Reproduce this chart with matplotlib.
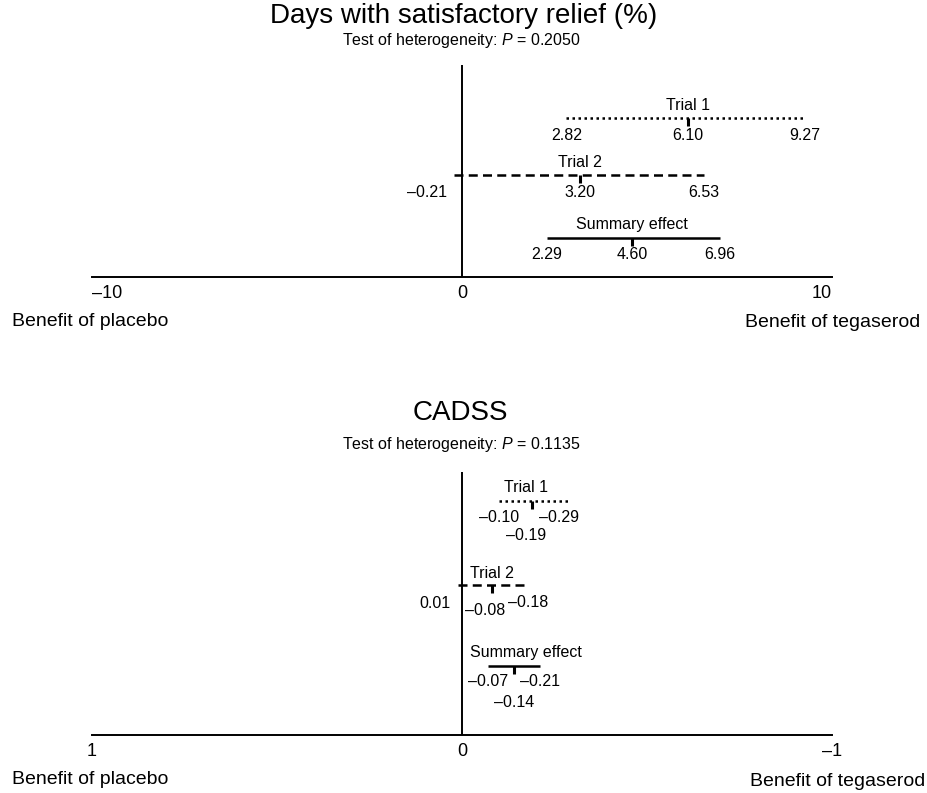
import matplotlib
matplotlib.use("Agg")
import matplotlib.pyplot as plt

plt.rcParams['font.family'] = 'Liberation Sans'
plt.rcParams['mathtext.fontset'] = 'custom'
plt.rcParams['mathtext.rm'] = 'Liberation Sans'
plt.rcParams['mathtext.it'] = 'Liberation Sans:italic'

# data
row_names = ["Trial 1", "Trial 2", "Summary effect"]

relief_lo = [2.82, -0.21, 2.29]
relief_est = [6.10, 3.20, 4.60]
relief_hi = [9.27, 6.53, 6.96]
relief_p = "0.2050"
relief_ticks = [-10, 0, 10]

cadss_lo = [-0.10, 0.01, -0.07]
cadss_est = [-0.19, -0.08, -0.14]
cadss_hi = [-0.29, -0.18, -0.21]
cadss_p = "0.1135"
cadss_ticks = [1, 0, -1]

W, H = 927, 793
fig = plt.figure(figsize=(W / 100, H / 100), dpi=100)

ax_left, ax_width = 92 / W, (832 - 92) / W
top_px = 277 - 65
bot_px = 735 - 472
ax1 = fig.add_axes([ax_left, 1 - 277 / H, ax_width, top_px / H])
ax2 = fig.add_axes([ax_left, 1 - 735 / H, ax_width, bot_px / H])

line_styles = [(0, (1, 1.4)), (0, (3.6, 2.1)), '-']
row_y_top = [0.75, 0.481, 0.184]
row_y_bot = [0.890, 0.570, 0.262]

# label offsets in pixels: (dx, dy, ha) for name, lo, est, hi
spec_top = [
    [(0, 13, 'center'), (0, -17, 'center'), (0, -17, 'center'), (0, -17, 'center')],
    [(0, 13, 'center'), (-7, -17, 'right'), (0, -17, 'center'), (0, -17, 'center')],
    [(0, 13, 'center'), (0, -17, 'center'), (0, -17, 'center'), (0, -17, 'center')],
]
spec_bot = [
    [(-6, 13, 'center'), (0, -17, 'center'), (-6, -35, 'center'), (-10, -17, 'center')],
    [(0, 12, 'center'), (-8, -18, 'right'), (-6, -25, 'center'), (0, -17, 'center')],
    [(12, 14, 'center'), (0, -15, 'center'), (0, -36, 'center'), (0, -15, 'center')],
]


def fmt(v, nd=2):
    return f"{v:.{nd}f}".replace("-", "\u2013")


def setup(ax, ticks, tick_ha):
    ax.set_xlim(ticks[0], ticks[-1])
    ax.set_ylim(0, 1)
    for s in ['top', 'right', 'left']:
        ax.spines[s].set_visible(False)
    ax.spines['bottom'].set_linewidth(1.4)
    ax.set_xticks([])
    ax.set_yticks([])
    ax.patch.set_alpha(0)
    ax.axvline(0, color='black', lw=1.4)
    for t, ha in zip(ticks, tick_ha):
        ax.annotate(str(t).replace("-", "\u2013"), xy=(t, 0),
                    xycoords=('data', 'axes fraction'), xytext=(0, -8),
                    textcoords='offset pixels', ha=ha, va='top', fontsize=13)


def put(ax, txt, x, y, s):
    ax.annotate(txt, xy=(x, y), xytext=(s[0], s[1]), textcoords='offset pixels',
                ha=s[2], va='center', fontsize=11.5, annotation_clip=False)


def draw_rows(ax, ys, lo, est, hi, specs, px_h):
    tick = 8 / px_h
    for i in range(len(row_names)):
        y = ys[i]
        ax.plot([lo[i], hi[i]], [y, y], color='black', lw=1.8,
                linestyle=line_styles[i], solid_capstyle='butt', dash_capstyle='butt')
        ax.plot([est[i], est[i]], [y, y - tick], color='black', lw=2.2,
                solid_capstyle='butt')
        s = specs[i]
        put(ax, row_names[i], est[i], y, s[0])
        put(ax, fmt(lo[i]), lo[i], y, s[1])
        put(ax, fmt(est[i]), est[i], y, s[2])
        put(ax, fmt(hi[i]), hi[i], y, s[3])


setup(ax1, relief_ticks, ['left', 'center', 'right'])
setup(ax2, cadss_ticks, ['center', 'center', 'center'])
draw_rows(ax1, row_y_top, relief_lo, relief_est, relief_hi, spec_top, top_px)
draw_rows(ax2, row_y_bot, cadss_lo, cadss_est, cadss_hi, spec_bot, bot_px)

# titles
fig.text(464 / W, 1 - 16 / H, "Days with satisfactory relief (%)", ha='center', va='center', fontsize=20)
fig.text(461 / W, 1 - 41 / H, "Test of heterogeneity: $\\it{P}$ = " + relief_p, ha='center', va='center', fontsize=11.5)
fig.text(460 / W, 1 - 413 / H, "CADSS", ha='center', va='center', fontsize=20)
fig.text(461 / W, 1 - 445 / H, "Test of heterogeneity: $\\it{P}$ = " + cadss_p, ha='center', va='center', fontsize=11.5)

# side labels
fig.text(12 / W, 1 - 322 / H, "Benefit of placebo", ha='left', va='center', fontsize=14)
fig.text(920 / W, 1 - 323 / H, "Benefit of tegaserod", ha='right', va='center', fontsize=14)
fig.text(12 / W, 1 - 780 / H, "Benefit of placebo", ha='left', va='center', fontsize=14)
fig.text(925 / W, 1 - 782 / H, "Benefit of tegaserod", ha='right', va='center', fontsize=14)

fig.savefig("out.png", dpi=100, facecolor='white')
